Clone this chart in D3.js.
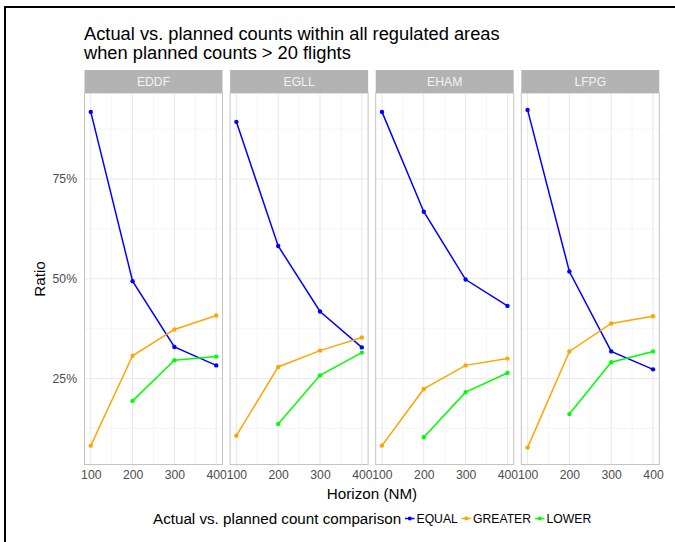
<!DOCTYPE html>
<html>
<head>
<meta charset="utf-8">
<script src="https://cdn.jsdelivr.net/npm/d3@7"></script>
<style>
  html, body { margin: 0; padding: 0; background: #fff; }
  svg { display: block; font-family: "Liberation Sans", Arial, sans-serif; }
</style>
</head>
<body>
<svg id="chart" width="675" height="542"></svg>
<script>
// Facet panels (one per airport) and horizon distances in NM
const airports = ["EDDF", "EGLL", "EHAM", "LFPG"];
const horizons = [100, 200, 300, 400];

// Share of regulated areas per comparison outcome, in percent (rows follow airports)
const equalPct = [
  [91.8, 49.4, 32.9, 28.3],
  [89.3, 58.2, 41.8, 32.8],
  [91.8, 66.8, 49.8, 43.2],
  [92.3, 51.8, 31.8, 27.3]
];
const greaterPct = [
  [8.2, 30.7, 37.3, 40.8],
  [10.7, 27.9, 32.0, 35.3],
  [8.2, 22.4, 28.3, 30.0],
  [7.7, 31.8, 38.8, 40.6]
];
const lowerPct = [
  [null, 19.4, 29.6, 30.5],
  [null, 13.6, 25.8, 31.5],
  [null, 10.3, 21.6, 26.4],
  [null, 16.1, 29.1, 31.8]
];

const seriesNames = ["EQUAL", "GREATER", "LOWER"];
const seriesColors = ["#0000ff", "#ffa500", "#00ff00"];
const seriesValues = [equalPct, greaterPct, lowerPct];

const xTicks = [100, 200, 300, 400];
const xMinor = [150, 250, 350];
const yTicks = [25, 50, 75];
const yMinor = [12.5, 37.5, 62.5, 87.5];

const svg = d3.select("#chart");

// Outer frame lines
svg.append("line").attr("x1", 5).attr("x2", 5).attr("y1", 6).attr("y2", 542)
  .attr("stroke", "#000").attr("stroke-width", 2);
svg.append("line").attr("x1", 4).attr("x2", 675).attr("y1", 7).attr("y2", 7)
  .attr("stroke", "#000").attr("stroke-width", 2);

// Title
const title = svg.append("text").attr("fill", "#000").attr("font-size", 18.3);
title.append("tspan").attr("x", 84).attr("y", 40).text("Actual vs. planned counts within all regulated areas");
title.append("tspan").attr("x", 84).attr("y", 59).text("when planned counts > 20 flights");

// Panel geometry
const panelLeft = 84.5, panelW = 138, panelGap = 7.6;
const stripTop = 70, stripH = 23;
const panelTop = stripTop + stripH, panelBottom = 464.5;

// Continuous scales with 5% expansion on each side
const allVals = seriesValues.flat(2).filter(v => v != null);
const yMin = d3.min(allVals), yMax = d3.max(allVals);
const yPad = (yMax - yMin) * 0.05;
const y = d3.scaleLinear().domain([yMin - yPad, yMax + yPad]).range([panelBottom, panelTop]);
const xPad = (d3.max(horizons) - d3.min(horizons)) * 0.05;

airports.forEach((ap, i) => {
  const x0 = panelLeft + i * (panelW + panelGap);
  const x = d3.scaleLinear()
    .domain([d3.min(horizons) - xPad, d3.max(horizons) + xPad])
    .range([x0, x0 + panelW]);
  const g = svg.append("g");

  // Grid
  g.selectAll(".ymin").data(yMinor).join("line")
    .attr("x1", x0).attr("x2", x0 + panelW)
    .attr("y1", d => y(d)).attr("y2", d => y(d))
    .attr("stroke", "#f0f0f0").attr("stroke-width", 0.6);
  g.selectAll(".xmin").data(xMinor).join("line")
    .attr("y1", panelTop).attr("y2", panelBottom)
    .attr("x1", d => x(d)).attr("x2", d => x(d))
    .attr("stroke", "#f0f0f0").attr("stroke-width", 0.6);
  g.selectAll(".ymaj").data(yTicks).join("line")
    .attr("x1", x0).attr("x2", x0 + panelW)
    .attr("y1", d => y(d)).attr("y2", d => y(d))
    .attr("stroke", "#e8e8e8").attr("stroke-width", 1);
  g.selectAll(".xmaj").data(xTicks).join("line")
    .attr("y1", panelTop).attr("y2", panelBottom)
    .attr("x1", d => x(d)).attr("x2", d => x(d))
    .attr("stroke", "#e8e8e8").attr("stroke-width", 1);

  // Series
  seriesValues.forEach((vals, s) => {
    const pts = horizons.map((h, k) => ({ h, v: vals[i][k] })).filter(d => d.v != null);
    const line = d3.line().x(d => x(d.h)).y(d => y(d.v));
    g.append("path").datum(pts).attr("d", line)
      .attr("fill", "none").attr("stroke", seriesColors[s]).attr("stroke-width", 1.5);
    g.selectAll(".pt" + s).data(pts).join("circle")
      .attr("cx", d => x(d.h)).attr("cy", d => y(d.v)).attr("r", 2.2)
      .attr("fill", seriesColors[s]);
  });

  // Panel border
  g.append("rect").attr("x", x0).attr("y", panelTop).attr("width", panelW)
    .attr("height", panelBottom - panelTop)
    .attr("fill", "none").attr("stroke", "#c4c4c4").attr("stroke-width", 1);

  // Strip
  g.append("rect").attr("x", x0).attr("y", stripTop).attr("width", panelW).attr("height", stripH)
    .attr("fill", "#b3b3b3");
  g.append("text").attr("x", x0 + panelW / 2).attr("y", stripTop + stripH / 2 + 4.3)
    .attr("text-anchor", "middle").attr("fill", "#f2f2f2").attr("font-size", 12.2).text(ap);

  // X axis labels
  const xAxis = d3.axisBottom(x).tickValues(xTicks).tickSize(0).tickPadding(5.5);
  const ax = g.append("g").attr("transform", `translate(0,${panelBottom})`).call(xAxis);
  ax.select(".domain").remove();
  ax.selectAll("text").attr("fill", "#4d4d4d").attr("font-size", 12.2)
    .attr("font-family", "Liberation Sans, Arial, sans-serif");

  // Y axis labels on first panel
  if (i === 0) {
    const yAxis = d3.axisLeft(y).tickValues(yTicks).tickSize(0).tickPadding(7.5)
      .tickFormat(d => d + "%");
    const ay = g.append("g").attr("transform", `translate(${x0},0)`).call(yAxis);
    ay.select(".domain").remove();
    ay.selectAll("text").attr("fill", "#4d4d4d").attr("font-size", 12.2)
      .attr("font-family", "Liberation Sans, Arial, sans-serif");
  }
});

// Axis titles
svg.append("text").attr("x", 372).attr("y", 499).attr("text-anchor", "middle")
  .attr("font-size", 15.2).attr("fill", "#000").text("Horizon (NM)");
svg.append("text").attr("transform", "translate(45,279) rotate(-90)")
  .attr("text-anchor", "middle").attr("font-size", 15.2).attr("fill", "#000").text("Ratio");

// Legend
const legY = 518.5;
svg.append("text").attr("x", 153).attr("y", legY + 5).attr("font-size", 15.2)
  .attr("fill", "#000").text("Actual vs. planned count comparison");
const keyX = [405, 461.5, 535];
seriesNames.forEach((name, s) => {
  const kx = keyX[s];
  svg.append("line").attr("x1", kx).attr("x2", kx + 9.5).attr("y1", legY).attr("y2", legY)
    .attr("stroke", seriesColors[s]).attr("stroke-width", 1.5);
  svg.append("circle").attr("cx", kx + 4.75).attr("cy", legY).attr("r", 2).attr("fill", seriesColors[s]);
  svg.append("text").attr("x", kx + 11.5).attr("y", legY + 4.3).attr("font-size", 12.2)
    .attr("fill", "#000").text(name);
});
</script>
</body>
</html>
